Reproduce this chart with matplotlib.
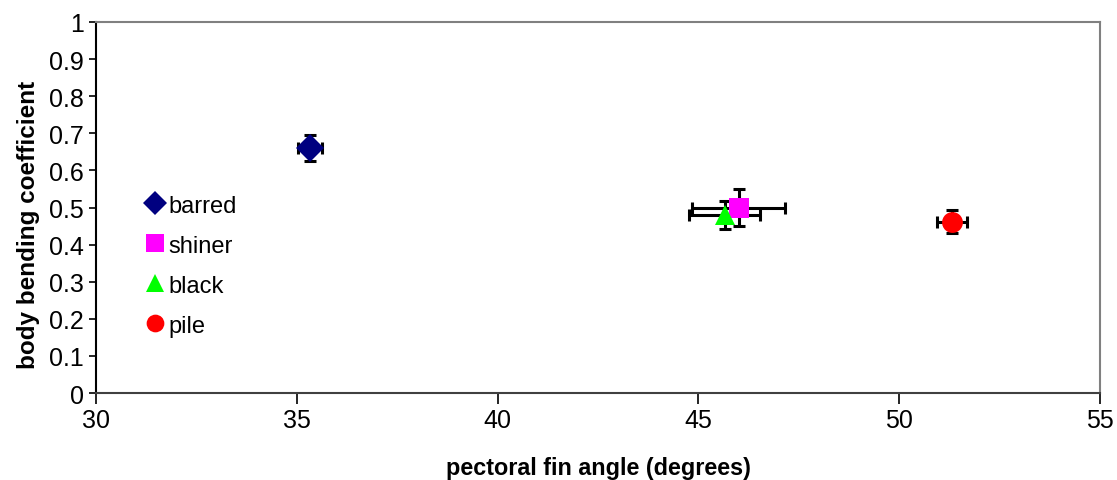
import matplotlib.pyplot as plt
from matplotlib.lines import Line2D

plt.rcParams['font.family'] = ['Liberation Sans', 'DejaVu Sans']

# data
species = ['barred', 'shiner', 'black', 'pile']
fin_angle = [35.33, 46.0, 45.65, 51.31]
fin_angle_err = [0.29, 1.15, 0.88, 0.37]
bending = [0.66, 0.50, 0.48, 0.462]
bending_err = [0.035, 0.05, 0.038, 0.03]

markers = ['D', 's', '^', 'o']
colors = ['#000080', '#FF00FF', '#00FF00', '#FF0000']
sizes = [14, 15, 15, 15]

fig = plt.figure(figsize=(11.17, 4.81), dpi=100)
ax = fig.add_axes([96 / 1117, 1 - 394 / 481, 1004 / 1117, 371 / 481])

for x, y, xe, ye in zip(fin_angle, bending, fin_angle_err, bending_err):
    ax.errorbar(x, y, xerr=xe, yerr=ye, fmt='none', ecolor='black',
                elinewidth=2.2, capsize=4.5, capthick=2.2, zorder=2)

handles = []
for x, y, name, m, c, s in zip(fin_angle, bending, species, markers, colors, sizes):
    ax.plot(x, y, marker=m, color=c, markersize=s, markeredgewidth=0,
            linestyle='none', zorder=3)
    handles.append(Line2D([], [], marker=m, color=c, markersize=s * 0.85,
                          markeredgewidth=0, linestyle='none', label=name))

ax.set_xlim(30, 55)
ax.set_ylim(0, 1)
ax.set_xticks(range(30, 56, 5))
ax.set_yticks([i / 10 for i in range(11)])
ax.set_yticklabels(['0', '0.1', '0.2', '0.3', '0.4', '0.5', '0.6', '0.7', '0.8', '0.9', '1'])

for side in ['top', 'right']:
    ax.spines[side].set_color('#808080')
    ax.spines[side].set_linewidth(1.5)
ax.spines['left'].set_color('black')
ax.spines['bottom'].set_color('#404040')
ax.spines['left'].set_linewidth(1.5)
ax.spines['bottom'].set_linewidth(1.5)

ax.tick_params(axis='both', labelsize=18, direction='out', width=1.2)
ax.tick_params(axis='y', length=5, pad=4)
ax.tick_params(axis='x', length=8, pad=3)

ax.set_xlabel('pectoral fin angle (degrees)', fontsize=16.8, fontweight='bold', va='center')
ax.set_ylabel('body bending coefficient', fontsize=17.5, fontweight='bold', va='center')
ax.xaxis.set_label_coords(0.5, (394 - 468) / 371)
ax.yaxis.set_label_coords((28 - 96) / 1004, (394 - 225) / 371)

ax.legend(handles=handles, loc='upper left', bbox_to_anchor=(0.04, 0.56),
          frameon=False, fontsize=17, handlelength=0.8, handletextpad=0.15,
          labelspacing=0.76, borderaxespad=0)

fig.savefig('out.png', dpi=100)
